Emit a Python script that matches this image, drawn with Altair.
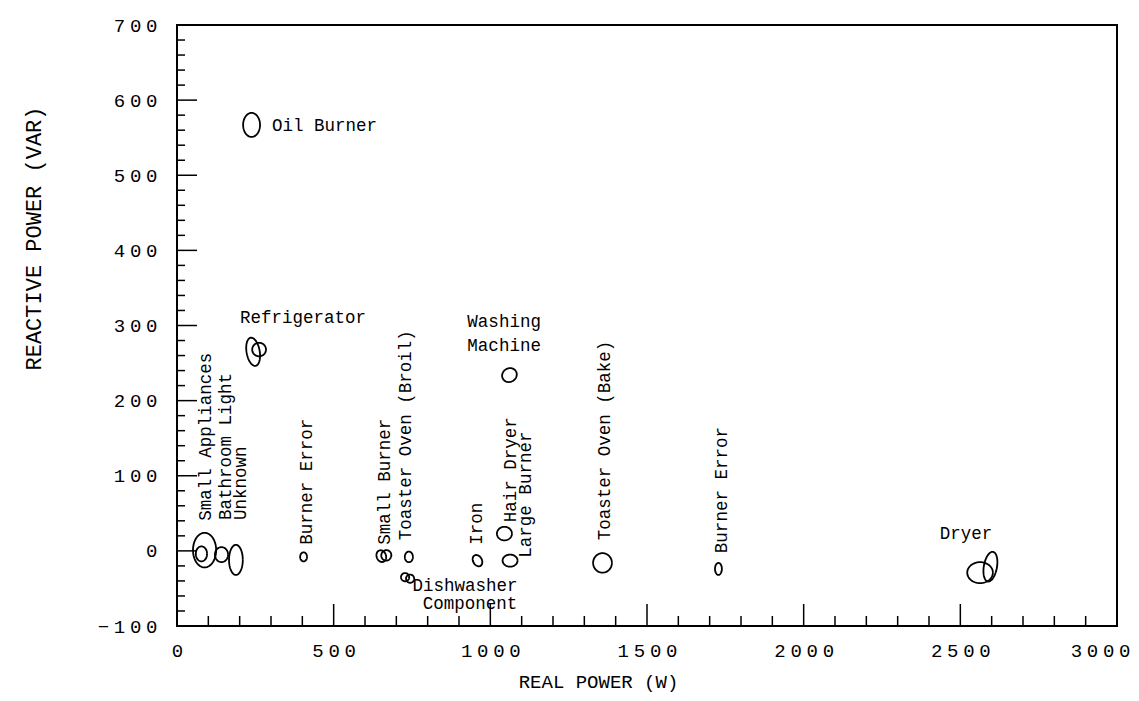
import altair as alt
import numpy as np
import pandas as pd

# ---------------- data ----------------
# cluster ellipses: centre (W, VAR), semi-axes (W, VAR), tilt (deg)
ell_cx = [238, 243, 262, 88, 78, 142, 188, 404, 652, 668, 740, 728, 744,
          959, 1045, 1063, 1061, 1358, 1728, 2563, 2596]
ell_cy = [567, 265, 268, 1, -4, -5, -12, -8, -7, -6, -8, -35, -37,
          -13, 23, -13, 234, -16, -24, -29, -21]
ell_a = [27, 21, 22, 37, 18, 21, 22, 11, 15, 16, 13, 13, 13,
         14, 24, 24, 24, 30, 11, 41, 21]
ell_b = [16, 19, 9, 23, 10, 10, 20, 6, 8, 7, 7, 5.5, 5.5,
         8, 9, 8, 9, 13, 8, 14, 20]
ell_tilt = [0, 10, 0, 0, 0, 0, 0, 0, 20, -20, 0, 30, 30,
            30, 0, 0, 30, 0, 0, 0, -10]

# vertical labels
vlab_text = ["Small Appliances", "Bathroom Light", "Unknown", "Burner Error",
             "Small Burner", "Toaster Oven (Broil)", "Iron", "Hair Dryer",
             "Large Burner", "Toaster Oven (Bake)", "Burner Error"]
vlab_x = [93, 156, 204, 415, 664, 731, 957, 1066, 1114, 1366, 1739]
vlab_y = [40, 41, 41, 8, 8, 14, 8, 38, -9, 14, -3]

# horizontal labels, left aligned
llab_text = ["Oil Burner", "Refrigerator"]
llab_x = [303, 201]
llab_y = [566, 310]

# horizontal labels, centred
clab_text = ["Washing", "Machine", "Dishwasher", "Component", "Dryer"]
clab_x = [1044, 1044, 919, 935, 2518]
clab_y = [305, 273, -47, -71, 22]

x_ticks = [0, 500, 1000, 1500, 2000, 2500, 3000]
y_ticks = [-100, 0, 100, 200, 300, 400, 500, 600, 700]
x_minor = list(range(100, 3000, 100))
y_minor = list(range(-80, 700, 20))

# ---------------- chart ----------------
W, H = 940, 601
XMIN, XMAX, YMIN, YMAX = 0, 3000, -100, 700
kx = W / (XMAX - XMIN)
ky = H / (YMAX - YMIN)

rows = []
t = np.linspace(0, 2 * np.pi, 61)
for i, (cx, cy, a, b, ph) in enumerate(zip(ell_cx, ell_cy, ell_a, ell_b, ell_tilt)):
    phi = np.deg2rad(ph)
    u = a * kx * np.cos(t)
    v = b * ky * np.sin(t)
    xs = cx + (u * np.cos(phi) - v * np.sin(phi)) / kx
    ys = cy + (u * np.sin(phi) + v * np.cos(phi)) / ky
    for j, (xx, yy) in enumerate(zip(xs, ys)):
        rows.append({"id": i, "k": j, "P": xx, "Q": yy})
ell_df = pd.DataFrame(rows)

FONT = "Liberation Mono"
xscale = alt.Scale(domain=[XMIN, XMAX], nice=False, zero=False)
yscale = alt.Scale(domain=[YMIN, YMAX], nice=False, zero=False)
spaced = "join(split(datum.label, ''), '\u2005')"

xaxis = alt.Axis(values=x_ticks, format="d", labelExpr=spaced, ticks=False,
                 domain=False, grid=False, labelFlush=False, labelPadding=15,
                 labelBaseline="top", labelFont=FONT, labelFontSize=19,
                 labelColor="black",
                 labelAlign={"condition": {"test": "datum.value == 3000", "value": "right"},
                             "value": "center"},
                 labelOffset={"condition": {"test": "datum.value == 3000", "value": 13},
                              "value": 0},
                 title="REAL POWER  (W)", titleX=421,
                 titleY=55, titleBaseline="middle", titleAlign="center",
                 titleFont=FONT, titleFontSize=19, titleFontWeight="normal",
                 titleColor="black")
yaxis = alt.Axis(values=y_ticks, format="d", labelExpr=spaced, ticks=False,
                 domain=False, grid=False, labelFlush=False, labelPadding=20,
                 labelFont=FONT, labelFontSize=19, labelColor="black",
                 title="REACTIVE POWER  (VAR)", titleX=-144, titleY=213,
                 titleAngle=270, titleBaseline="middle", titleAlign="center",
                 titleFont=FONT, titleFontSize=22, titleFontWeight="normal",
                 titleColor="black")

ellipses = alt.Chart(ell_df).mark_line(color="black", strokeWidth=1.8).encode(
    x=alt.X("P:Q", scale=xscale, axis=xaxis),
    y=alt.Y("Q:Q", scale=yscale, axis=yaxis),
    detail="id:N",
    order="k:Q",
)

vdf = pd.DataFrame({"t": vlab_text, "P": vlab_x, "Q": vlab_y})
vlabels = alt.Chart(vdf).mark_text(angle=270, align="left", baseline="middle",
                                   font=FONT, fontSize=17.5, color="black").encode(
    x=alt.X("P:Q", scale=xscale), y=alt.Y("Q:Q", scale=yscale), text="t:N")

ldf = pd.DataFrame({"t": llab_text, "P": llab_x, "Q": llab_y})
llabels = alt.Chart(ldf).mark_text(align="left", baseline="middle",
                                   font=FONT, fontSize=17.5, color="black").encode(
    x=alt.X("P:Q", scale=xscale), y=alt.Y("Q:Q", scale=yscale), text="t:N")

cdf = pd.DataFrame({"t": clab_text, "P": clab_x, "Q": clab_y})
clabels = alt.Chart(cdf).mark_text(align="center", baseline="middle",
                                   font=FONT, fontSize=17.5, color="black").encode(
    x=alt.X("P:Q", scale=xscale), y=alt.Y("Q:Q", scale=yscale), text="t:N")

# inward tick marks
ymaj = alt.Chart(pd.DataFrame({"Q": y_ticks[1:-1]})).mark_rule(color="black", strokeWidth=1.5).encode(
    y=alt.Y("Q:Q", scale=yscale), x=alt.value(0), x2=alt.value(20))
ymin_ = alt.Chart(pd.DataFrame({"Q": [v for v in y_minor if v % 100 != 0]})).mark_rule(
    color="black", strokeWidth=1.5).encode(
    y=alt.Y("Q:Q", scale=yscale), x=alt.value(0), x2=alt.value(8))
xmaj = alt.Chart(pd.DataFrame({"P": x_ticks[1:-1]})).mark_rule(color="black", strokeWidth=1.5).encode(
    x=alt.X("P:Q", scale=xscale), y=alt.value(H), y2=alt.value(H - 22))
xmin_ = alt.Chart(pd.DataFrame({"P": [v for v in x_minor if v % 500 != 0]})).mark_rule(
    color="black", strokeWidth=1.5).encode(
    x=alt.X("P:Q", scale=xscale), y=alt.value(H), y2=alt.value(H - 10))

chart = alt.layer(ymaj, ymin_, xmaj, xmin_, ellipses, vlabels, llabels, clabels).properties(
    width=W, height=H,
    autosize=alt.AutoSizeParams(type="none"),
    padding={"left": 169, "top": 17, "right": 14, "bottom": 67},
    background="white",
).configure_view(stroke="black", strokeWidth=2)

chart.save("out.html", embed_options={"renderer": "svg", "actions": False})
